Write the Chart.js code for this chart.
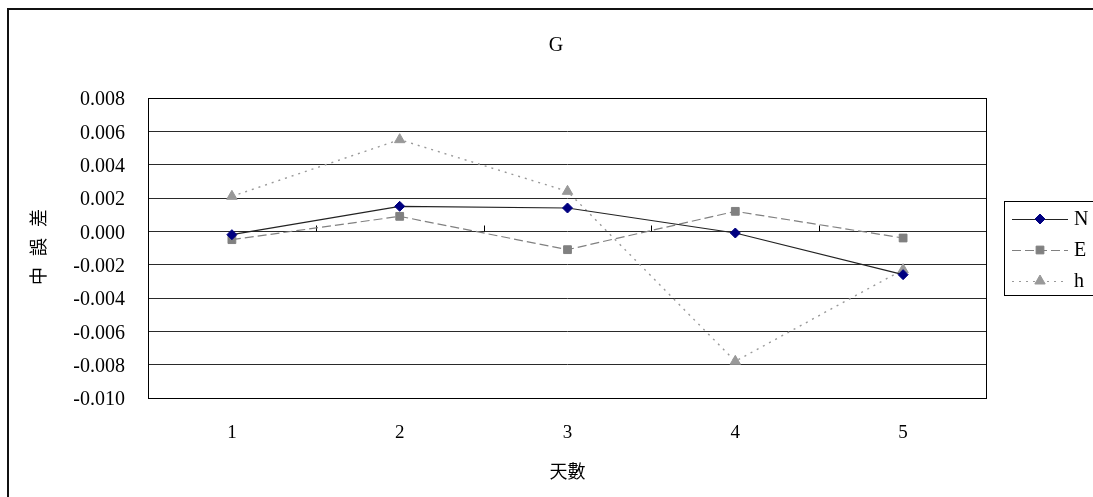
<!DOCTYPE html>
<html>
<head>
<meta charset="utf-8">
<script src="https://cdn.jsdelivr.net/npm/chart.js@4/dist/chart.umd.min.js"></script>
<style>
  html, body { margin: 0; padding: 0; background: #fff; }
  canvas { display: block; }
</style>
</head>
<body>
<canvas id="c" width="1093" height="497"></canvas>
<script>
// Chart texts
const chartTitle = 'G';
const xAxisTitle = '天數';
const yAxisTitle = '中誤差';

// Categories (days) and the three error series
const days = ['1', '2', '3', '4', '5'];
const seriesN = [-0.0002, 0.0015, 0.0014, -0.0001, -0.0026];
const seriesE = [-0.0005, 0.0009, -0.0011, 0.0012, -0.0004];
const seriesH = [0.0021, 0.0055, 0.0024, -0.0078, -0.0023];

// Value axis ticks
const yTickValues = [-0.010, -0.008, -0.006, -0.004, -0.002, 0.000, 0.002, 0.004, 0.006, 0.008];

const SERIF = '"Liberation Serif", "Times New Roman", serif';
const CJK = '"Noto Sans CJK TC", "Noto Sans CJK SC", sans-serif';

function markerPath(ctx, style, r, x, y) {
  if (Chart.helpers && Chart.helpers.drawPoint) {
    Chart.helpers.drawPoint(ctx, { pointStyle: style, radius: r, rotation: 0, borderWidth: 1 }, x, y);
    return;
  }
  ctx.beginPath();
  if (style === 'rectRot') {
    ctx.moveTo(x, y - r); ctx.lineTo(x + r, y); ctx.lineTo(x, y + r); ctx.lineTo(x - r, y);
  } else if (style === 'triangle') {
    ctx.moveTo(x, y - r); ctx.lineTo(x + r * 0.87, y + r / 2); ctx.lineTo(x - r * 0.87, y + r / 2);
  } else {
    const s = r * Math.SQRT1_2;
    ctx.rect(x - s, y - s, 2 * s, 2 * s);
  }
  ctx.closePath(); ctx.fill(); ctx.stroke();
}

// Background, outer frame, plot-area border and the category ticks on the zero line
const framePlugin = {
  id: 'frame',
  beforeDraw(chart) {
    const ctx = chart.ctx;
    ctx.save();
    ctx.fillStyle = '#fff';
    ctx.fillRect(0, 0, chart.width, chart.height);
    ctx.strokeStyle = '#111';
    ctx.lineWidth = 2;
    ctx.beginPath();
    ctx.moveTo(8, chart.height + 2);
    ctx.lineTo(8, 9);
    ctx.lineTo(chart.width + 2, 9);
    ctx.stroke();
    ctx.restore();
  },
  beforeDatasetsDraw(chart) {
    const ctx = chart.ctx;
    const a = chart.chartArea;
    const xs = chart.scales.x, ys = chart.scales.y;
    ctx.save();
    ctx.strokeStyle = '#000';
    ctx.lineWidth = 1;
    ctx.strokeRect(Math.round(a.left) + 0.5, Math.round(a.top) + 0.5,
                   Math.round(a.right - a.left) - 1, Math.round(a.bottom - a.top));
    // tick marks between categories, sitting on the zero value line
    const y0 = Math.round(ys.getPixelForValue(0)) + 0.5;
    ctx.beginPath();
    for (let i = 0; i < days.length - 1; i++) {
      const xm = Math.round((xs.getPixelForValue(i) + xs.getPixelForValue(i + 1)) / 2) + 0.5;
      ctx.moveTo(xm, y0);
      ctx.lineTo(xm, y0 - 6);
    }
    ctx.stroke();
    ctx.restore();
  },
  afterDraw(chart) {
    const ctx = chart.ctx;
    const a = chart.chartArea;
    ctx.save();
    ctx.fillStyle = '#000';
    // chart title
    ctx.font = '20px ' + SERIF;
    ctx.textAlign = 'center';
    ctx.textBaseline = 'middle';
    ctx.fillText(chartTitle, 556, 46);
    // x axis title
    ctx.font = '18px ' + CJK;
    ctx.fillText(xAxisTitle, (a.left + a.right) / 2, 471);
    // y axis title, rotated, letter-spaced
    ctx.font = '18px ' + CJK;
    const spacing = 11;
    const w = ctx.measureText(yAxisTitle).width + spacing * (yAxisTitle.length - 1);
    ctx.translate(38, (a.top + a.bottom) / 2 - 1);
    ctx.rotate(-Math.PI / 2);
    ctx.textAlign = 'left';
    ctx.letterSpacing = spacing + 'px';
    ctx.fillText(yAxisTitle, -w / 2, 0);
    ctx.letterSpacing = '0px';
    ctx.restore();

    // legend
    ctx.save();
    const lx = 1004, ly = 201, lh = 94;
    ctx.strokeStyle = '#000';
    ctx.lineWidth = 1;
    ctx.strokeRect(lx + 0.5, ly + 0.5, 120, lh);
    const rowY = [219, 250, 281];
    chart.data.datasets.forEach((ds, i) => {
      const y = rowY[i] + 0.5;
      ctx.strokeStyle = ds.borderColor;
      ctx.lineWidth = 1;
      ctx.setLineDash(ds.borderDash || []);
      ctx.beginPath();
      ctx.moveTo(1012, y);
      ctx.lineTo(1068, y);
      ctx.stroke();
      ctx.setLineDash([]);
      ctx.fillStyle = ds.pointBackgroundColor;
      ctx.strokeStyle = ds.pointBorderColor;
      markerPath(ctx, ds.pointStyle, ds.pointRadius, 1040, rowY[i]);
      ctx.fillStyle = '#000';
      ctx.font = '20px ' + SERIF;
      ctx.textAlign = 'left';
      ctx.textBaseline = 'middle';
      ctx.fillText(ds.label, 1074, rowY[i] + 1);
    });
    ctx.restore();
  }
};

new Chart(document.getElementById('c'), {
  type: 'line',
  data: {
    labels: days,
    datasets: [
      {
        label: 'N', data: seriesN,
        borderColor: '#222', borderWidth: 1.2,
        pointStyle: 'rectRot', pointRadius: 5,
        pointBackgroundColor: '#000080', pointBorderColor: '#000080', pointBorderWidth: 1
      },
      {
        label: 'E', data: seriesE,
        borderColor: '#808080', borderWidth: 1.2, borderDash: [9, 4],
        pointStyle: 'rect', pointRadius: 5.5,
        pointBackgroundColor: '#808080', pointBorderColor: '#808080', pointBorderWidth: 1
      },
      {
        label: 'h', data: seriesH,
        borderColor: '#999999', borderWidth: 1.4, borderDash: [2, 5],
        pointStyle: 'triangle', pointRadius: 6,
        pointBackgroundColor: '#999999', pointBorderColor: '#999999', pointBorderWidth: 1
      }
    ]
  },
  options: {
    responsive: false,
    animation: false,
    devicePixelRatio: 1,
    layout: { padding: { top: 98, right: 106, bottom: 0, left: 0 } },
    elements: { line: { tension: 0 } },
    plugins: {
      legend: { display: false },
      title: { display: false },
      tooltip: { enabled: false }
    },
    scales: {
      x: {
        type: 'category',
        offset: true,
        grid: { display: false, drawTicks: false, tickLength: 0 },
        border: { display: false },
        ticks: { color: '#000', font: { family: SERIF, size: 19 }, padding: 24, maxRotation: 0 },
        afterFit(scale) { scale.height = 99; }
      },
      y: {
        min: -0.010,
        max: 0.008,
        grid: { color: '#2a2a2a', lineWidth: 1, drawTicks: false, tickLength: 0 },
        border: { display: false },
        afterBuildTicks(scale) { scale.ticks = yTickValues.map(v => ({ value: v })); },
        ticks: {
          color: '#000',
          font: { family: SERIF, size: 20 },
          padding: 23,
          labelOffset: 2,
          callback(v) { return Math.abs(v) < 1e-9 ? '0.000' : Number(v).toFixed(3); }
        },
        afterFit(scale) { scale.width = 148; }
      }
    }
  },
  plugins: [framePlugin]
});
</script>
</body>
</html>
